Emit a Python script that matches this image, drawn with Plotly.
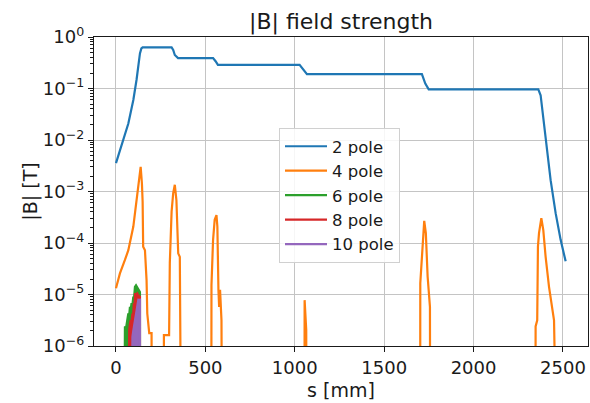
import plotly.graph_objects as go

# ---------------- data ----------------
s_2pole = [0, 41, 69, 97, 115, 134, 142, 149, 311, 320, 329, 347, 543, 557, 570,
           1027, 1045, 1068, 1711, 1720, 1730, 1749, 2362, 2375, 2394, 2409, 2431,
           2459, 2487, 2515]
B_2pole = [3.55e-3, 1.0e-2, 2.09e-2, 6.0e-2, 0.148, 0.479, 0.60, 0.63, 0.63, 0.56,
           0.447, 0.389, 0.389, 0.339, 0.288, 0.288, 0.24, 0.19, 0.19, 0.16, 0.125,
           0.096, 0.096, 0.074, 0.021, 7.4e-3, 1.66e-3, 3.8e-4, 1.15e-4, 4.4e-5]

s_4pole = [0, 22, 50, 69, 97, 115, 125, 138, 145, 149, 152, 162, 171, 175, 186, 199, 200,
           267, 268, 297, 301, 311, 320, 329, 338, 348, 357, 361, 366,
           533, 534, 543, 552, 562, 567, 573, 577, 582, 590, 594,
           1054, 1055, 1064, 1066,
           1701, 1702, 1715, 1724, 1733, 1743, 1756, 1758,
           2346, 2347, 2356, 2360, 2366, 2379, 2390, 2403, 2422, 2450, 2468]
B_4pole = [1.32e-5, 2.57e-5, 4.68e-5, 7.24e-5, 2.09e-4, 6.76e-4, 1.66e-3, 3.02e-3, 1.45e-3,
           6.3e-4, 8.5e-5, 7.24e-5, 1.9e-5, 4.27e-6, 1.78e-6, 1.78e-6, 1e-9,
           1e-9, 1.62e-6, 1.62e-6, 4.07e-5, 4.07e-4, 9.3e-4, 1.35e-3, 6.76e-4, 6.3e-5,
           5.37e-5, 6.76e-6, 1e-9,
           1e-9, 1.51e-5, 1.15e-4, 2.82e-4, 3.47e-4, 2.09e-4, 1.23e-5, 5.75e-6, 1.23e-5,
           3.16e-6, 1e-9,
           1e-9, 7.76e-6, 2.04e-6, 1e-9,
           1e-9, 1.66e-5, 1.15e-4, 2.69e-4, 1.55e-4, 2.24e-5, 5.75e-6, 1e-9,
           1e-9, 2.4e-6, 3.16e-6, 8.5e-5, 1.55e-4, 3.02e-4, 1.78e-4, 5.37e-5, 1.41e-5,
           3.16e-6, 1e-9]

s_6pole = [45, 46, 50, 55, 60, 64, 69, 74, 78, 83, 87, 92, 97, 101, 106, 112, 118, 125, 130, 134, 134.5]
B_6pole = [1e-9, 2.0e-6, 2.4e-6, 2.1e-6, 2.75e-6, 3.2e-6, 4.27e-6, 4.0e-6, 5.75e-6, 5.3e-6,
           6.76e-6, 6.3e-6, 9.1e-6, 8.5e-6, 1.41e-5, 1.51e-5, 1.4e-5, 1.32e-5, 1.25e-5, 1.12e-5, 1e-9]

s_8pole = [69, 70, 74, 78, 82, 87, 92, 96, 100, 104, 107, 113, 119, 125, 130, 134, 134.5]
B_8pole = [1e-9, 1.8e-6, 2.04e-6, 2.7e-6, 3.16e-6, 2.9e-6, 4.27e-6, 4.0e-6, 6.76e-6, 6.3e-6,
           1.05e-5, 1.0e-5, 1.05e-5, 9.6e-6, 9.1e-6, 9.0e-6, 1e-9]

s_10pole = [87, 88, 92, 96, 100, 106, 112, 118, 125, 130, 134, 134.5]
B_10pole = [1e-9, 1.3e-6, 1.51e-6, 1.9e-6, 2.34e-6, 3.6e-6, 5.0e-6, 6.3e-6, 7.94e-6, 7.9e-6, 7.94e-6, 1e-9]

names = ["2 pole", "4 pole", "6 pole", "8 pole", "10 pole"]
colors = ["#1f77b4", "#ff7f0e", "#2ca02c", "#d62728", "#9467bd"]

x_ticks = [0, 500, 1000, 1500, 2000, 2500]
y_ticks = [1e-6, 1e-5, 1e-4, 1e-3, 1e-2, 1e-1, 1e0]
y_ticktext = ["10<sup>\u22126</sup>", "10<sup>\u22125</sup>", "10<sup>\u22124</sup>",
              "10<sup>\u22123</sup>", "10<sup>\u22122</sup>", "10<sup>\u22121</sup>",
              "10<sup>0</sup>"]
y_minor = [m * 10.0 ** e for e in range(-6, 0) for m in range(2, 10)]

# ---------------- figure ----------------
FONT = "DejaVu Sans"
LW = 2.2
fig = go.Figure()

fig.add_trace(go.Scatter(x=s_2pole, y=B_2pole, mode="lines", name=names[0],
                         line=dict(color=colors[0], width=LW)))
fig.add_trace(go.Scatter(x=s_4pole, y=B_4pole, mode="lines", name=names[1],
                         line=dict(color=colors[1], width=LW)))

for s_arr, b_arr, nm, col in [(s_6pole, B_6pole, names[2], colors[2]),
                              (s_8pole, B_8pole, names[3], colors[3]),
                              (s_10pole, B_10pole, names[4], colors[4])]:
    # filled region (dense oscillating signal appears solid)
    fig.add_trace(go.Scatter(x=list(s_arr) + list(reversed(s_arr)),
                             y=list(b_arr) + [1e-9] * len(b_arr),
                             mode="lines", fill="toself", fillcolor=col,
                             line=dict(color=col, width=0.5), showlegend=False,
                             hoverinfo="skip"))
    fig.add_trace(go.Scatter(x=s_arr, y=b_arr, mode="lines", name=nm,
                             line=dict(color=col, width=LW)))

fig.update_layout(
    width=590, height=403,
    margin=dict(l=94, r=2, t=37, b=57),
    paper_bgcolor="white", plot_bgcolor="white",
    font=dict(family=FONT, size=18, color="#1a1a1a"),
    title=dict(text="|B| field strength", x=0.5, xref="paper", xanchor="center",
               y=1 - 21 / 403, yref="container", yanchor="middle",
               font=dict(family=FONT, size=22, color="#1a1a1a")),
    showlegend=True,
    legend=dict(x=0.3745, y=0.7055, xanchor="left", yanchor="top",
                bgcolor="rgba(255,255,255,0.85)", bordercolor="#d0d0d0", borderwidth=1,
                font=dict(family=FONT, size=16.5, color="#1a1a1a"),
                tracegroupgap=0, itemwidth=42),
)

fig.update_xaxes(
    range=[-123, 2640], tickvals=x_ticks, ticktext=[str(v) for v in x_ticks],
    showgrid=True, gridcolor="#c4c4c4", gridwidth=1.3, zeroline=False,
    showline=True, linecolor="#1a1a1a", linewidth=1.3, mirror=True,
    ticks="outside", ticklen=5, tickwidth=1.2, tickcolor="#1a1a1a",
    tickfont=dict(family=FONT, size=18, color="#1a1a1a"),
    title=dict(text="s [mm]", font=dict(family=FONT, size=19, color="#1a1a1a"), standoff=6),
)
fig.update_yaxes(
    type="log", range=[-6, 0], tickvals=y_ticks, ticktext=y_ticktext,
    showgrid=True, gridcolor="#c4c4c4", gridwidth=1.3, zeroline=False,
    showline=True, linecolor="#1a1a1a", linewidth=1.3, mirror=True,
    ticks="outside", ticklen=5, tickwidth=1.2, tickcolor="#1a1a1a",
    tickfont=dict(family=FONT, size=18, color="#1a1a1a"),
    minor=dict(tickvals=y_minor, ticks="outside", ticklen=3, tickwidth=0.8,
               tickcolor="#1a1a1a", showgrid=False),
    title=dict(text="|B| [T]", font=dict(family=FONT, size=19, color="#1a1a1a"), standoff=0),
)

fig.write_html(
    "out.html",
    config={"displayModeBar": False},
    post_script="document.body.style.margin='0';document.body.style.padding='0';"
                "document.body.style.overflow='hidden';",
)
